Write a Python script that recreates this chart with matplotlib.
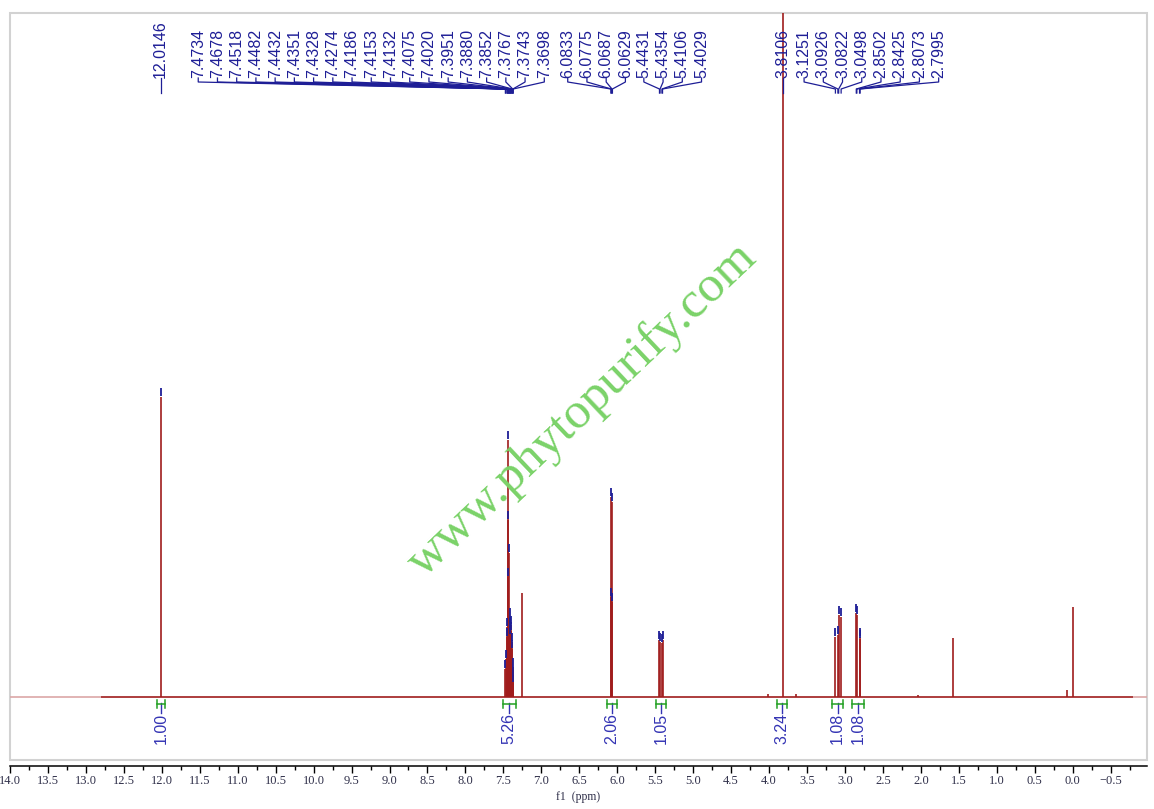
import numpy as np
import matplotlib
matplotlib.use('Agg')
import matplotlib.pyplot as plt
from matplotlib.patches import Rectangle
from matplotlib.ticker import MultipleLocator
from matplotlib.transforms import blended_transform_factory

#====================================
# Peak list (ppm, height above baseline)
#====================================
labelled_ppm = [12.0146,
                7.4734, 7.4678, 7.4518, 7.4482, 7.4432, 7.4351, 7.4328, 7.4274,
                7.4186, 7.4153, 7.4132, 7.4075, 7.4020, 7.3951, 7.3880, 7.3852,
                7.3767, 7.3743, 7.3698,
                6.0833, 6.0775, 6.0687, 6.0629,
                5.4431, 5.4354, 5.4106, 5.4029,
                3.8106,
                3.1251, 3.0926, 3.0822, 3.0498, 2.8502, 2.8425, 2.8073, 2.7995]
labelled_height = [300,
                   28, 38, 60, 70, 120, 257, 177, 144,
                   80, 72, 70, 62, 66, 72, 55, 48,
                   30, 22, 14,
                   100, 200, 195, 95,
                   57, 55, 54, 57,
                   1500,
                   60, 62, 82, 80, 84, 82, 60, 58]
# how many labels belong to each label group (left to right)
label_group_sizes = [1, 19, 4, 4, 1, 8]

# unlabelled peaks: CHCl3, water, TMS and small impurities
other_ppm = [7.26, 1.57, 0.00, 0.08, 4.01, 3.64, 2.04]
other_height = [104, 59, 90, 7, 3, 3, 2]

# integrals
integral_from = [12.06, 7.51, 6.14, 5.49, 3.89, 3.17, 2.91]
integral_to = [11.96, 7.34, 6.00, 5.36, 3.76, 3.02, 2.75]
integral_value = ['1.00', '5.26', '2.06', '1.05', '3.24', '1.08', '1.08']

#====================================
# layout
#====================================
W, H = 1154, 809
RED = '#a01c1c'
NAVY = '#1e1e96'
IBLUE = '#3434b4'
GREEN = '#22a022'

# label group start (ppm), None = sit on the peak itself
group_start = [None, 11.52, 6.652, 5.649, None, 3.538]
label_step = 0.2533


def fy(px):
    return 1 - px / H


fig = plt.figure(figsize=(W / 100, H / 100), dpi=100)
ax = fig.add_axes([10 / W, 1 - 760 / H, 1137 / W, 747 / H])
ax.set_xlim(14.0, -0.98)
ax.set_ylim(-63, 684)

# grey frame, the ppm scale sits just under it
for s in ['top', 'left', 'right']:
    ax.spines[s].set_visible(False)
ax.spines['bottom'].set_position(('outward', 4.5))
ax.spines['bottom'].set_linewidth(1.1)
ax.add_patch(Rectangle((0, 0), 1, 1, transform=ax.transAxes, fill=False,
                       edgecolor='#d2d2d2', lw=1.5, clip_on=False, zorder=0))
ax.set_yticks([])
ax.xaxis.set_major_locator(MultipleLocator(0.5))
ax.xaxis.set_minor_locator(MultipleLocator(0.25))
ax.tick_params(axis='x', which='major', length=5, width=1.0, pad=1.5,
               labelsize=9, labelcolor='#30304a')
ax.tick_params(axis='x', which='minor', length=3, width=1.0)
for t in ax.get_xticklabels():
    t.set_family('Liberation Serif')
ax.set_xlabel('f1  (ppm)', family='Liberation Serif', fontsize=8.5,
              color='#30304a', labelpad=3)

# watermark
fig.text(582 / W, fy(410), 'www.phytopurify.com', family='Liberation Serif',
         fontsize=37, color='#7ad268', rotation=43.5, ha='center', va='center',
         zorder=0)

# spectrum
ax.hlines(0, 12.8, -0.8, color=RED, lw=1.2, zorder=2)
ax.hlines(0, 14.0, 12.8, color='#dba7a7', lw=1.2, zorder=2)
ax.hlines(0, -0.8, -0.98, color='#dba7a7', lw=1.2, zorder=2)
all_ppm = labelled_ppm + other_ppm
all_h = labelled_height + other_height
ax.vlines(all_ppm, 0, all_h, color=RED, lw=1.2, zorder=3)

# peak top markers
mk_ppm = [p for p, h in zip(labelled_ppm, labelled_height) if h < 600]
mk_h = np.array([h for h in labelled_height if h < 600])
ax.vlines(mk_ppm, mk_h + 1, mk_h + 9, color=NAVY, lw=1.3, zorder=4)

# peak labels with connectors
trans = blended_transform_factory(ax.transData, fig.transFigure)
k = 0
for g, n in enumerate(label_group_sizes):
    for i in range(n):
        p = labelled_ppm[k]
        xl = p if group_start[g] is None else group_start[g] - i * label_step
        ax.plot([xl, xl, p, p], [fy(78), fy(82), fy(89), fy(93)],
                transform=trans, color=NAVY, lw=0.9, clip_on=False, zorder=5)
        ax.text(xl, fy(77.5), '%.4f' % p, transform=trans, rotation=90,
                ha='center', va='bottom', fontsize=11.5, color=NAVY,
                family='Liberation Sans')
        k += 1

# integrals
for a, b, v in zip(integral_from, integral_to, integral_value):
    c = (a + b) / 2
    ax.plot([c, c], [fy(703), fy(713)], transform=trans, color=IBLUE,
            lw=1.0, clip_on=False, zorder=4)
    ax.plot([a, b], [fy(703.5), fy(703.5)], transform=trans, color=GREEN,
            lw=1.1, clip_on=False, zorder=5)
    for e in (a, b):
        ax.plot([e, e], [fy(699.5), fy(707.5)], transform=trans, color=GREEN,
                lw=1.1, clip_on=False, zorder=5)
    ax.text(c, fy(712.5), v, transform=trans, rotation=90, ha='center',
            va='top', fontsize=11.5, color=IBLUE, family='Liberation Sans')

fig.savefig('out.png', dpi=100)
